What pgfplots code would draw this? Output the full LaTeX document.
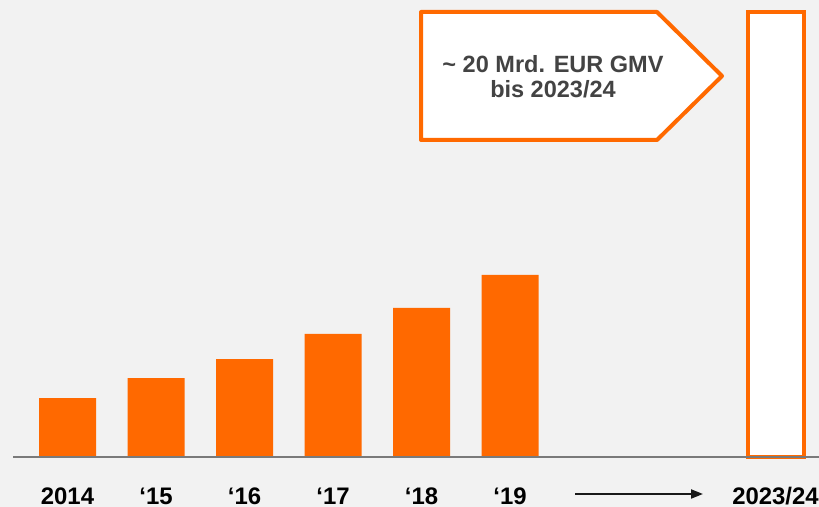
\documentclass[border=0pt]{standalone}
\usepackage{fontspec}
\setmainfont{Liberation Sans}
\usepackage{pgfplots}
\pgfplotsset{compat=1.18}
\usetikzlibrary{arrows.meta}
\definecolor{bg}{HTML}{F2F2F2}
\definecolor{zorange}{HTML}{FF6900}
\definecolor{basegray}{HTML}{7A7A7A}
\definecolor{txtgray}{HTML}{434343}
\begin{document}
\begin{tikzpicture}[x=1bp,y=1bp]
\fill[bg] (0,0) rectangle (819,507);
\begin{axis}[
  at={(0bp,50bp)}, anchor=south west,
  scale only axis, width=819bp, height=457bp,
  xmin=-0.7627, xmax=8.4915, ymin=0, ymax=20.539,
  axis line style={draw=none},
  tick style={draw=none},
  ytick=\empty,
  xtick={0,1,2,3,4,5,8},
  xticklabels={2014,‘15,‘16,‘17,‘18,‘19,2023/24},
  xticklabel style={anchor=base, yshift=-43.5bp, font=\bfseries\fontsize{24}{24}\selectfont, text=black, inner sep=0pt},
  ybar, bar shift=0pt,
  clip=false,
]
\addplot[fill=zorange, draw=none, bar width=57bp] coordinates {(0,2.65) (1,3.55) (2,4.40) (3,5.53) (4,6.70) (5,8.18)};
\addplot[fill=white, draw=zorange, line width=4bp, bar width=56bp] coordinates {(8,20.0)};
\end{axis}
\draw[basegray, line width=2bp] (13,49.5) -- (819,49.5);
\draw[zorange, fill=white, line width=4bp, line join=round] (421,495) -- (657,495) -- (722,431) -- (657,367) -- (421,367) -- cycle;
\node[text=txtgray, font=\bfseries\fontsize{23.6}{25}\selectfont, anchor=base] at (553,434) {\textasciitilde{} 20 Mrd. EUR GMV};
\node[text=txtgray, font=\bfseries\fontsize{23.6}{25}\selectfont, anchor=base] at (553,409) {bis 2023/24};
\draw[black!90, line width=2bp, -{Triangle[length=12bp,width=9bp]}] (575,13) -- (703,13);
\pgfresetboundingbox
\useasboundingbox (0,0) rectangle (819,507);
\end{tikzpicture}
\end{document}
